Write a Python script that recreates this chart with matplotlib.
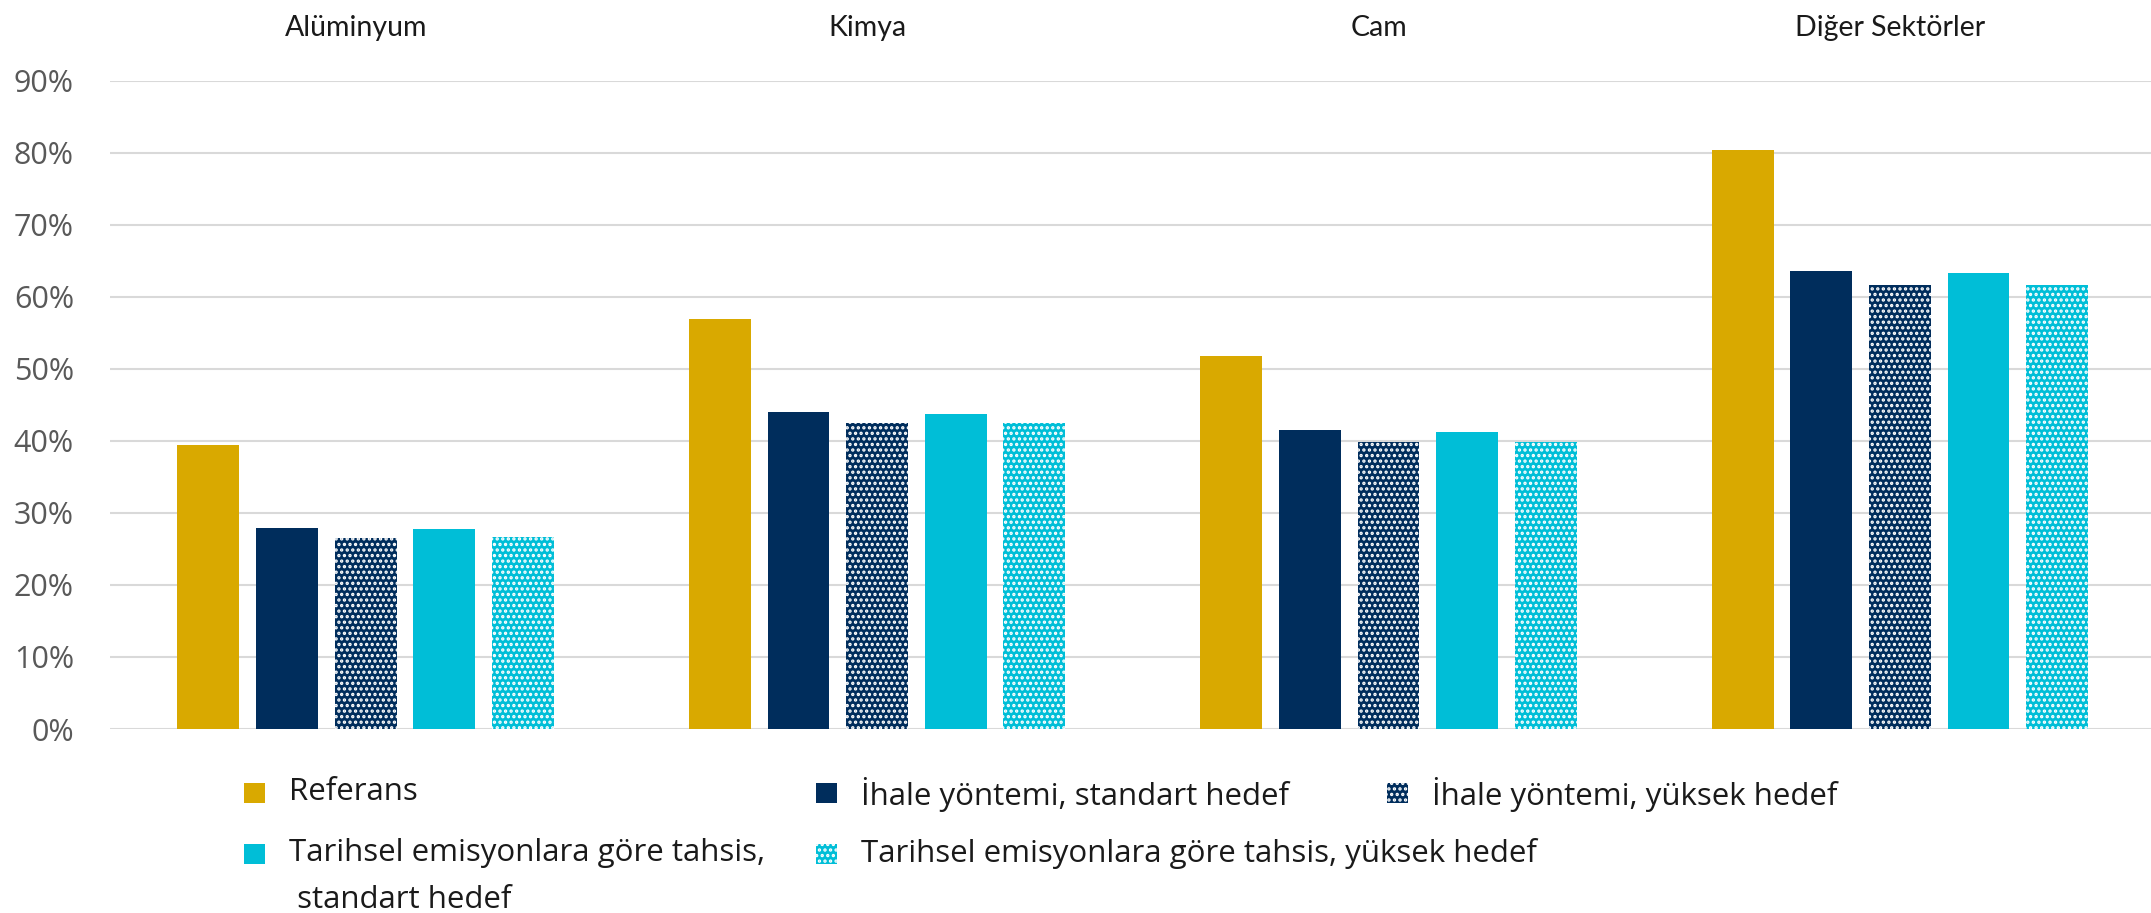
import numpy as np
import matplotlib.pyplot as plt
import matplotlib.transforms as mtransforms
from matplotlib.patches import Rectangle
from matplotlib.ticker import PercentFormatter

plt.rcParams['font.family'] = ['Open Sans', 'DejaVu Sans']
plt.rcParams['hatch.linewidth'] = 1.6

# sektörler ve senaryolar
sektorler = ['Alüminyum', 'Kimya', 'Cam', 'Diğer Sektörler']
referans = [0.395, 0.570, 0.518, 0.804]
ihale_standart = [0.279, 0.440, 0.415, 0.636]
ihale_yuksek = [0.265, 0.425, 0.399, 0.617]
tarihsel_standart = [0.278, 0.438, 0.413, 0.634]
tarihsel_yuksek = [0.267, 0.425, 0.399, 0.617]

seriler = [referans, ihale_standart, ihale_yuksek, tarihsel_standart, tarihsel_yuksek]
etiketler = ['Referans',
             'İhale yöntemi, standart hedef',
             'İhale yöntemi, yüksek hedef',
             'Tarihsel emisyonlara göre tahsis,\n standart hedef',
             'Tarihsel emisyonlara göre tahsis, yüksek hedef']
renkler = ['#D9A900', '#002D5C', '#002D5C', '#00BED7', '#00BED7']
taramalar = [None, None, '...', None, '...']

W, H = 2151, 913
fig = plt.figure(figsize=(W / 100, H / 100), dpi=100)
ax = fig.add_axes([110 / W, 1 - 729 / H, 2045.6 / W, (729 - 81) / H])

x = np.arange(len(sektorler))
genislik = 0.121
aralik = 0.1538
for i, (vals, renk, tarama) in enumerate(zip(seriler, renkler, taramalar)):
    konum = x + (i - 2) * aralik
    if tarama:
        ax.bar(konum, vals, genislik, color=renk, edgecolor='white',
               linewidth=0, hatch=tarama, zorder=3)
    else:
        ax.bar(konum, vals, genislik, color=renk, linewidth=0, zorder=3)

ax.set_xlim(-0.5, 3.5)
ax.set_ylim(0, 0.9)
ax.set_yticks(np.arange(0, 0.91, 0.1))
ax.yaxis.set_major_formatter(PercentFormatter(1.0, decimals=0))
ax.grid(axis='y', color='#D9D9D9', linewidth=1.5, zorder=0)
for s in ax.spines.values():
    s.set_visible(False)
ax.tick_params(axis='y', length=0, pad=26, labelsize=22, labelcolor='#595959')

ax.set_xticks(x)
ax.set_xticklabels(sektorler, family=['Lato', 'DejaVu Sans'])
ax.xaxis.tick_top()
ax.tick_params(axis='x', length=0, pad=29, labelsize=20.5, labelcolor='#1A1A1A')
kaydir = mtransforms.ScaledTranslation(-10 / 100, 0, fig.dpi_scale_trans)
for lbl in ax.get_xticklabels():
    lbl.set_transform(lbl.get_transform() + kaydir)

# lejant elle yerleştiriliyor
yerler = [(244, 793), (816, 793), (1387, 793), (244, 854), (816, 854)]
for (px, py), etiket, renk, tarama in zip(yerler, etiketler, renkler, taramalar):
    kutu = Rectangle((px / W, 1 - (py + 10) / H), 21 / W, 20 / H,
                     transform=fig.transFigure, facecolor=renk,
                     edgecolor='white' if tarama else renk,
                     linewidth=0, hatch=tarama)
    fig.add_artist(kutu)
    fig.text((px + 45) / W, 1 - (py - 16) / H, etiket, fontsize=22.5,
             color='#1A1A1A', va='top', ha='left', linespacing=1.75)

fig.savefig('out.png', dpi=100)
